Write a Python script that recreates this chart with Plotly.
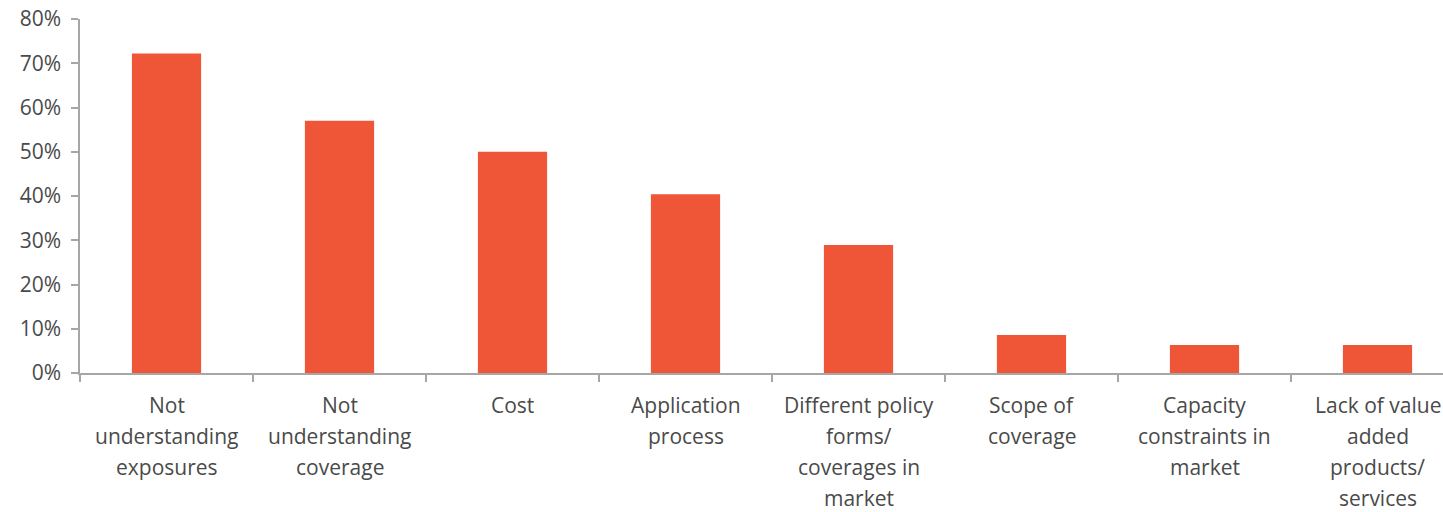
import plotly.graph_objects as go

categories = [
    "Not<br>understanding<br>exposures",
    "Not<br>understanding<br>coverage",
    "Cost",
    "Application<br>process",
    "Different policy<br>forms/<br>coverages in<br>market",
    "Scope of<br>coverage",
    "Capacity<br>constraints in<br>market",
    "Lack of value<br>added<br>products/<br>services",
]
values = [72.2, 57.0, 50.0, 40.4, 28.9, 8.6, 6.3, 6.3]
y_ticks = [0, 10, 20, 30, 40, 50, 60, 70, 80]
y_tick_labels = [f"{v}%" for v in y_ticks]

bar_color = "#EF5537"
text_color = "#4a4a4a"
axis_color = "#a6a6a6"
font_family = "Open Sans"
font_size = 21

x_idx = list(range(len(categories)))

fig = go.Figure()
fig.add_trace(go.Bar(
    x=x_idx, y=values, marker_color=bar_color, marker_line_width=0, width=0.4,
    hoverinfo="skip",
))

annotations = []
for i, cat in enumerate(categories):
    for j, line in enumerate(cat.split("<br>")):
        annotations.append(dict(
            x=i, y=0, xref="x", yref="y", text=line, showarrow=False,
            xanchor="center", yanchor="middle", yshift=-(32 + 31 * j),
            font=dict(family=font_family, size=font_size, color=text_color),
        ))

fig.update_layout(
    width=1443, height=512,
    margin=dict(l=80, r=0, t=19, b=139, autoexpand=False),
    paper_bgcolor="white", plot_bgcolor="white",
    showlegend=False,
    annotations=annotations,
    font=dict(family=font_family, size=font_size, color=text_color),
    xaxis=dict(
        range=[-0.5, -0.5 + (1443 - 80) / 173.0],
        tickmode="array", tickvals=[k + 0.5 for k in range(-1, len(categories))],
        ticktext=["" for _ in range(len(categories) + 1)],
        ticks="outside", ticklen=7, tickcolor=axis_color, tickwidth=1.5,
        showline=True, linecolor=axis_color, linewidth=1.5,
        showgrid=False, zeroline=False, fixedrange=True,
    ),
    yaxis=dict(
        range=[0, 80], tickmode="array", tickvals=y_ticks, ticktext=y_tick_labels,
        ticks="outside", ticklen=7, tickcolor=axis_color, tickwidth=1.5,
        showline=True, linecolor=axis_color, linewidth=1.5,
        showgrid=False, zeroline=False, ticklabelstandoff=6,
        tickfont=dict(family=font_family, size=font_size, color=text_color),
        automargin=False,
    ),
)

fig.write_html("out.html")
